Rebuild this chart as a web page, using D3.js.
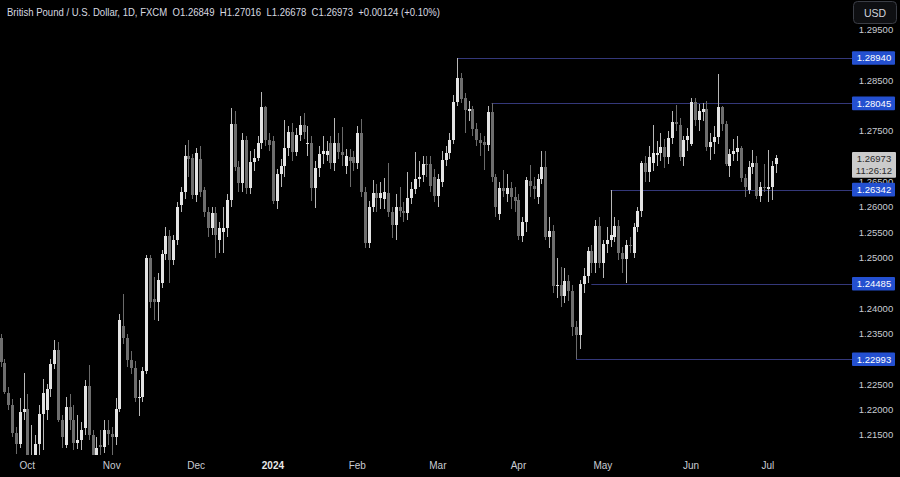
<!DOCTYPE html>
<html><head><meta charset="utf-8">
<script src="https://cdn.jsdelivr.net/npm/d3@7"></script>
<style>html,body{margin:0;padding:0;background:#000;}svg{display:block;}</style>
</head><body>
<svg id="c" width="900" height="477"></svg>
<script>
// ---- data (daily GBP/USD candles, index order) ----
const opens = [1.2341,1.2292,1.2233,1.2209,1.2154,1.2132,1.2195,1.2202,1.2075,1.2090,1.2132,1.2191,1.2200,1.2240,1.2291,1.2318,1.2180,1.2130,1.2205,1.2179,1.2134,1.2140,1.2163,1.2247,1.2150,1.2105,1.2130,1.2126,1.2160,1.2152,1.2145,1.2201,1.2365,1.2341,1.2298,1.2282,1.2222,1.2225,1.2276,1.2499,1.2419,1.2413,1.2450,1.2508,1.2543,1.2496,1.2535,1.2604,1.2630,1.2700,1.2697,1.2623,1.2695,1.2633,1.2590,1.2558,1.2588,1.2535,1.2551,1.2558,1.2614,1.2763,1.2679,1.2647,1.2732,1.2637,1.2689,1.2697,1.2727,1.2797,1.2732,1.2730,1.2612,1.2665,1.2681,1.2716,1.2748,1.2709,1.2742,1.2762,1.2725,1.2726,1.2637,1.2677,1.2704,1.2702,1.2726,1.2687,1.2726,1.2708,1.2681,1.2699,1.2699,1.2687,1.2746,1.2630,1.2529,1.2600,1.2628,1.2618,1.2615,1.2628,1.2590,1.2564,1.2600,1.2592,1.2588,1.2618,1.2636,1.2656,1.2663,1.2685,1.2685,1.2660,1.2622,1.2650,1.2693,1.2707,1.2732,1.2807,1.2855,1.2815,1.2790,1.2793,1.2754,1.2732,1.2728,1.2722,1.2787,1.2659,1.2586,1.2637,1.2625,1.2637,1.2619,1.2614,1.2543,1.2571,1.2651,1.2641,1.2620,1.2655,1.2679,1.2541,1.2553,1.2443,1.2446,1.2424,1.2454,1.2434,1.2363,1.2347,1.2448,1.2464,1.2513,1.2490,1.2562,1.2490,1.2527,1.2535,1.2540,1.2562,1.2509,1.2497,1.2525,1.2510,1.2560,1.2592,1.2687,1.2669,1.2686,1.2703,1.2707,1.2718,1.2699,1.2736,1.2768,1.2762,1.2699,1.2732,1.2725,1.2808,1.2772,1.2788,1.2794,1.2719,1.2729,1.2739,1.2797,1.2764,1.2681,1.2705,1.2708,1.2716,1.2657,1.2634,1.2679,1.2687,1.2622,1.2640,1.2636,1.2640,1.26849];
const highs = [1.2350,1.2300,1.2245,1.2220,1.2165,1.2223,1.2272,1.2230,1.2170,1.2150,1.2210,1.2260,1.2250,1.2300,1.2337,1.2333,1.2190,1.2225,1.2230,1.2209,1.2189,1.2175,1.2258,1.2289,1.2160,1.2145,1.2160,1.2180,1.2180,1.2165,1.2223,1.2388,1.2428,1.2350,1.2315,1.2295,1.2258,1.2285,1.2505,1.2506,1.2461,1.2470,1.2515,1.2560,1.2555,1.2545,1.2610,1.2640,1.2723,1.2733,1.2705,1.2716,1.2720,1.2640,1.2600,1.2600,1.2600,1.2570,1.2600,1.2625,1.2795,1.2790,1.2690,1.2745,1.2740,1.2710,1.2715,1.2740,1.2827,1.2800,1.2745,1.2740,1.2675,1.2695,1.2772,1.2760,1.2765,1.2755,1.2780,1.2785,1.2760,1.2740,1.2690,1.2720,1.2740,1.2730,1.2740,1.2776,1.2745,1.2758,1.2715,1.2715,1.2710,1.2760,1.2774,1.2640,1.2612,1.2653,1.2645,1.2650,1.2657,1.2687,1.2600,1.2625,1.2640,1.2610,1.2669,1.2650,1.2708,1.2690,1.2700,1.2700,1.2700,1.2675,1.2665,1.2710,1.2720,1.2745,1.2820,1.2894,1.2864,1.2825,1.2810,1.2800,1.2765,1.2745,1.2740,1.2800,1.28045,1.2665,1.2650,1.2673,1.2665,1.2650,1.2640,1.2625,1.2580,1.2660,1.2683,1.2660,1.2665,1.2710,1.2710,1.2580,1.2565,1.2499,1.2481,1.2480,1.2465,1.2445,1.2375,1.2455,1.2480,1.2520,1.2525,1.2575,1.2580,1.2535,1.2560,1.26342,1.2580,1.2575,1.2520,1.2535,1.2540,1.2568,1.2600,1.2690,1.2700,1.2720,1.2762,1.2730,1.2745,1.2735,1.2750,1.2790,1.2801,1.2775,1.2740,1.2755,1.2815,1.2815,1.2803,1.2805,1.2810,1.2745,1.2760,1.2862,1.2800,1.2770,1.2715,1.2735,1.2740,1.2720,1.2665,1.2690,1.2712,1.2700,1.2650,1.2685,1.2712,1.2690,1.27016];
const lows = [1.2285,1.2230,1.2200,1.2145,1.2112,1.2125,1.2180,1.2070,1.2037,1.2050,1.2110,1.2120,1.2180,1.2225,1.2280,1.2175,1.2125,1.2125,1.2160,1.2120,1.2122,1.2120,1.2150,1.2140,1.2090,1.2070,1.2095,1.2115,1.2130,1.2096,1.2130,1.2195,1.2330,1.2285,1.2270,1.2215,1.2187,1.2215,1.2270,1.2400,1.2377,1.2375,1.2440,1.2495,1.2450,1.2485,1.2525,1.2590,1.2615,1.2660,1.2615,1.2610,1.2620,1.2580,1.2540,1.2545,1.2500,1.2510,1.2510,1.2540,1.2600,1.2670,1.2630,1.2630,1.2625,1.2625,1.2670,1.2690,1.2715,1.2720,1.2710,1.2605,1.2596,1.2640,1.2660,1.2700,1.2690,1.2700,1.2730,1.2735,1.2700,1.2612,1.2598,1.2660,1.2685,1.2690,1.2675,1.2670,1.2695,1.2680,1.2665,1.2640,1.2670,1.2675,1.2620,1.2519,1.2518,1.2590,1.2590,1.2595,1.2595,1.2580,1.2539,1.2535,1.2580,1.2570,1.2575,1.2605,1.2625,1.2640,1.2650,1.2660,1.2630,1.2610,1.2600,1.2640,1.2680,1.2695,1.2725,1.2800,1.2805,1.2746,1.2770,1.2740,1.2720,1.2700,1.2673,1.2710,1.2650,1.2580,1.2575,1.2620,1.2610,1.2595,1.2590,1.2535,1.2530,1.2550,1.2620,1.2615,1.2605,1.2645,1.2535,1.2519,1.2430,1.2420,1.2403,1.2410,1.2415,1.2345,1.22993,1.2320,1.2430,1.2449,1.2470,1.2470,1.2480,1.2460,1.2510,1.2520,1.2530,1.2495,1.2470,1.2449,1.2510,1.2500,1.2550,1.2580,1.2649,1.2650,1.2670,1.2680,1.2690,1.2677,1.2685,1.2725,1.2750,1.2690,1.2680,1.2710,1.2720,1.2760,1.2750,1.2770,1.2710,1.2693,1.2705,1.2725,1.2750,1.2680,1.2659,1.2690,1.2690,1.2650,1.2620,1.2625,1.2665,1.2615,1.2610,1.2630,1.2610,1.2614,1.26678];
const closes = [1.2294,1.2234,1.2209,1.2154,1.2132,1.2195,1.2201,1.2075,1.2090,1.2132,1.2191,1.2233,1.2240,1.2291,1.2318,1.2180,1.2146,1.2205,1.2179,1.2134,1.2140,1.2160,1.2247,1.2150,1.2110,1.2125,1.2126,1.2160,1.2152,1.2145,1.2201,1.2377,1.2341,1.2298,1.2282,1.2223,1.2225,1.2276,1.2499,1.2413,1.2413,1.2456,1.2508,1.2543,1.2496,1.2535,1.2600,1.2630,1.2700,1.2695,1.2623,1.2707,1.2630,1.2590,1.2558,1.2588,1.2545,1.2558,1.2558,1.2614,1.2763,1.2679,1.2647,1.2732,1.2637,1.2689,1.2697,1.2727,1.2797,1.2732,1.2722,1.2612,1.2665,1.2681,1.2716,1.2748,1.2709,1.2742,1.2762,1.2748,1.2727,1.2637,1.2677,1.2705,1.2710,1.2710,1.2687,1.2726,1.2708,1.2702,1.2701,1.2690,1.2687,1.2746,1.2630,1.2529,1.2600,1.2628,1.2618,1.2628,1.2630,1.2590,1.2564,1.2600,1.2592,1.2588,1.2618,1.2636,1.2656,1.2660,1.2685,1.2683,1.2641,1.2622,1.2655,1.2693,1.2707,1.2732,1.2807,1.2855,1.2813,1.2791,1.2793,1.2754,1.2732,1.2726,1.2722,1.2787,1.2659,1.2600,1.2637,1.2631,1.2637,1.2619,1.2611,1.2543,1.2571,1.2653,1.2641,1.2635,1.2655,1.2679,1.2541,1.2553,1.2444,1.2446,1.2424,1.2454,1.2434,1.2363,1.2347,1.2448,1.2464,1.2513,1.2490,1.2562,1.2490,1.2527,1.2535,1.2545,1.2562,1.2509,1.2497,1.2525,1.2522,1.2560,1.2592,1.2687,1.2669,1.2699,1.2707,1.2707,1.2718,1.2699,1.2736,1.2768,1.2764,1.2699,1.2732,1.2740,1.2808,1.2772,1.2790,1.2794,1.2719,1.2729,1.2739,1.2797,1.2764,1.2685,1.2705,1.2711,1.2716,1.2657,1.2640,1.2679,1.2687,1.2622,1.2640,1.2638,1.2640,1.2680,1.26973];

const monthLabels = ["Oct","Nov","Dec","2024","Feb","Mar","Apr","May","Jun","Jul"];
const monthIndex  = [7,29,51,71,93,114,135,157,180,200];
const priceTicks  = [1.295,1.285,1.275,1.265,1.260,1.255,1.250,1.240,1.235,1.225,1.220,1.215];
const levels      = [1.28940,1.28045,1.26342,1.24485,1.22993];
const levelStart  = [119,128,159,154,150];
const lastPrice   = 1.26973;
const countdown   = "11:26:12";
const titleText   = "British Pound / U.S. Dollar, 1D, FXCM  O1.26849  H1.27016  L1.26678  C1.26973  +0.00124 (+0.10%)";

// ---- layout ----
const svg = d3.select("#c");
const plotR = 848, plotB = 455;
const font = "'Liberation Sans', Arial, sans-serif";
const x = d3.scaleLinear().domain([0, closes.length - 1]).range([0.5, 775.5]);
const y = d3.scaleLinear().domain([1.2894, 1.22993]).range([58, 359.3]);

svg.append("rect").attr("width",900).attr("height",477).attr("fill","#000");
svg.append("clipPath").attr("id","clip").append("rect").attr("x",0).attr("y",0).attr("width",plotR).attr("height",plotB);
const g = svg.append("g").attr("clip-path","url(#clip)");

// level rays
levels.forEach((lv,k)=>{
  const yy = Math.round(y(lv)) + 0.5;
  g.append("line").attr("x1", x(levelStart[k])).attr("x2", plotR+4).attr("y1", yy).attr("y2", yy)
   .attr("stroke","#34387a").attr("stroke-width",1);
});

// candles
const idx = d3.range(closes.length);
const up = i => closes[i] >= opens[i];
const cg = g.append("g").attr("shape-rendering","crispEdges");
cg.selectAll("line.w").data(idx).join("line").attr("class","w")
  .attr("x1", i => Math.round(x(i)) + 0.5).attr("x2", i => Math.round(x(i)) + 0.5)
  .attr("y1", i => y(highs[i])).attr("y2", i => y(lows[i]))
  .attr("stroke", i => up(i) ? "#b8b8b8" : "#6a6a6a");
cg.selectAll("rect.b").data(idx).join("rect").attr("class","b")
  .attr("x", i => Math.round(x(i)) - 1).attr("width", 3)
  .attr("y", i => y(Math.max(opens[i], closes[i])))
  .attr("height", i => Math.max(1, Math.abs(y(opens[i]) - y(closes[i]))))
  .attr("fill", i => up(i) ? "#e4e4e4" : "#6e6e6e");

// price axis labels (drawn first so the tag boxes cover them like the original)
const tickColor = "#c9ccd3";
svg.append("g").selectAll("text").data(priceTicks).join("text")
  .attr("x", 876).attr("y", d => y(d) + 3.5).attr("text-anchor","middle")
  .attr("font-family", font).attr("font-size", 9.5).attr("fill", tickColor)
  .text(d => d.toFixed(5));

// level labels
levels.forEach(lv=>{
  const yy = y(lv);
  svg.append("line").attr("x1",plotR).attr("x2",853).attr("y1",Math.round(yy)+0.5).attr("y2",Math.round(yy)+0.5).attr("stroke","#34387a");
  svg.append("rect").attr("x",852).attr("y",yy-6.8).attr("width",43).attr("height",13.6).attr("rx",1).attr("fill","#2450d0");
  svg.append("text").attr("x",874).attr("y",yy+3.4).attr("text-anchor","middle")
    .attr("font-family",font).attr("font-size",9.5).attr("fill","#ffffff").text(lv.toFixed(5));
});

// current price label
const ly = y(lastPrice);
svg.append("rect").attr("x",852).attr("y",ly-5.6).attr("width",44).attr("height",25.6).attr("rx",1).attr("fill","#cbcbcb");
svg.append("text").attr("x",874).attr("y",ly+4.8).attr("text-anchor","middle").attr("font-family",font).attr("font-size",9.5).attr("fill","#2a2a2a").text(lastPrice.toFixed(5));
svg.append("text").attr("x",874).attr("y",ly+16).attr("text-anchor","middle").attr("font-family",font).attr("font-size",9.5).attr("fill","#2a2a2a").text(countdown);

// USD button
svg.append("rect").attr("x",853.5).attr("y",1.5).attr("width",43).attr("height",22).attr("rx",4).attr("fill","#0e0f12").attr("stroke","#3a3d45");
svg.append("text").attr("x",875).attr("y",16.5).attr("text-anchor","middle").attr("font-family",font).attr("font-size",10.5).attr("fill","#d1d4dc").text("USD");

// time axis
svg.append("g").selectAll("text").data(monthLabels).join("text")
  .attr("x",(d,k)=>x(monthIndex[k])).attr("y",469).attr("text-anchor","middle")
  .attr("font-family",font).attr("font-size",10)
  .attr("font-weight",d=>d==="2024"?"bold":"normal")
  .attr("fill",d=>d==="2024"?"#e8e8e8":tickColor).text(d=>d);

// title
svg.append("text").attr("x",7).attr("y",16).attr("font-family",font).attr("font-size",10.5)
  .attr("fill","#d8dae0").attr("textLength",433).attr("lengthAdjust","spacingAndGlyphs")
  .attr("xml:space","preserve").style("white-space","pre").text(titleText);
</script>
</body></html>
